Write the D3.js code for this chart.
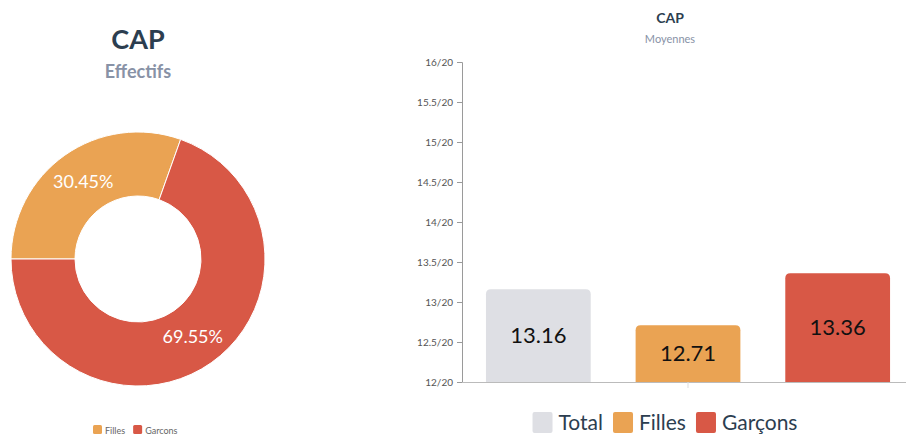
<!DOCTYPE html>
<html>
<head>
<meta charset="utf-8">
<script src="https://cdn.jsdelivr.net/npm/d3@7"></script>
<style>
  html, body { margin: 0; padding: 0; background: #fff; }
  svg { display: block; font-family: Lato, "Open Sans", sans-serif; }
</style>
</head>
<body>
<svg id="chart" width="906" height="434"></svg>
<script>
// Effectifs (donut)
const shareLabels = ["Filles", "Garcons"];
const shareValues = [30.45, 69.55];
const shareColors = ["#EAA353", "#D85846"];

// Moyennes (bars)
const barSeries = ["Total", "Filles", "Garçons"];
const barValues = [13.16, 12.71, 13.36];
const barColors = ["#DEDFE4", "#EAA353", "#D85846"];
const yTicks = [12, 12.5, 13, 13.5, 14, 14.5, 15, 15.5, 16];

const svg = d3.select("#chart");

// ---------- Donut ----------
const cx = 138, cy = 259, rOuter = 127, rInner = 63;
svg.append("text").attr("x", cx).attr("y", 49).attr("text-anchor", "middle")
  .attr("font-size", 27).attr("font-weight", 700).attr("fill", "#2C3E50").text("CAP");
svg.append("text").attr("x", cx).attr("y", 78).attr("text-anchor", "middle")
  .attr("font-size", 18).attr("font-weight", 700).attr("fill", "#8892A6").text("Effectifs");

const pie = d3.pie().sort(null)
  .startAngle(-Math.PI / 2).endAngle(Math.PI * 1.5);
const arcs = pie(shareValues);
const arc = d3.arc().innerRadius(rInner).outerRadius(rOuter);
const labelArc = d3.arc().innerRadius((rInner + rOuter) / 2).outerRadius((rInner + rOuter) / 2);
const donut = svg.append("g").attr("transform", `translate(${cx},${cy})`);
donut.selectAll("path").data(arcs).join("path")
  .attr("d", arc).attr("fill", (d, i) => shareColors[i])
  .attr("stroke", "#fff").attr("stroke-width", 1);
donut.selectAll("text").data(arcs).join("text")
  .attr("transform", d => `translate(${labelArc.centroid(d)})`)
  .attr("text-anchor", "middle").attr("dy", "0.35em")
  .attr("font-size", 18).attr("fill", "#fff")
  .text(d => d.data.toFixed(2) + "%");

// small legend under the donut
const lg = svg.append("g").attr("transform", "translate(93,425)");
let lx = 0;
shareLabels.forEach((name, i) => {
  lg.append("rect").attr("x", lx).attr("y", 0).attr("width", 9).attr("height", 9)
    .attr("rx", 1.5).attr("fill", shareColors[i]);
  const t = lg.append("text").attr("x", lx + 12).attr("y", 8.5)
    .attr("font-size", 9).attr("fill", "#666").text(name);
  lx += 12 + t.node().getComputedTextLength() + 8;
});

// ---------- Bars ----------
// the category area runs a little past the right edge of the view
const plot = { left: 462, right: 914, top: 62, bottom: 382 };
svg.append("text").attr("x", 670).attr("y", 23).attr("text-anchor", "middle")
  .attr("font-size", 14).attr("font-weight", 700).attr("fill", "#2C3E50").text("CAP");
svg.append("text").attr("x", 670).attr("y", 43).attr("text-anchor", "middle")
  .attr("font-size", 11).attr("fill", "#8892A6").text("Moyennes");

const y = d3.scaleLinear().domain([12, 16]).range([plot.bottom, plot.top]);
const x = d3.scaleBand().domain(barSeries).range([plot.left, plot.right])
  .paddingInner(0.3).paddingOuter(0.16);

const yAxis = d3.axisLeft(y).tickValues(yTicks).tickSize(5).tickPadding(4)
  .tickFormat(d => d + "/20");
const ya = svg.append("g").attr("transform", `translate(${plot.left},0)`).call(yAxis);
ya.select(".domain").attr("stroke", "#9a9a9a");
ya.selectAll(".tick line").attr("stroke", "#9a9a9a");
ya.selectAll(".tick text").attr("font-size", 10).attr("fill", "#555")
  .attr("font-family", "Lato, sans-serif");

// x baseline with one centre tick
svg.append("line").attr("x1", plot.left).attr("x2", plot.right)
  .attr("y1", plot.bottom + 0.5).attr("y2", plot.bottom + 0.5).attr("stroke", "#bbb");
svg.append("line").attr("x1", (plot.left + plot.right) / 2).attr("x2", (plot.left + plot.right) / 2)
  .attr("y1", plot.bottom).attr("y2", plot.bottom + 6).attr("stroke", "#ddd");

function topRounded(x0, y0, w, h, r) {
  return `M${x0},${y0 + h}V${y0 + r}Q${x0},${y0} ${x0 + r},${y0}H${x0 + w - r}` +
    `Q${x0 + w},${y0} ${x0 + w},${y0 + r}V${y0 + h}Z`;
}
const bars = svg.append("g");
barSeries.forEach((name, i) => {
  const bx = x(name), bw = x.bandwidth(), by = y(barValues[i]), bh = plot.bottom - by;
  bars.append("path").attr("d", topRounded(bx, by, bw, bh, 5)).attr("fill", barColors[i]);
  bars.append("text").attr("x", bx + bw / 2).attr("y", by + bh / 2)
    .attr("text-anchor", "middle").attr("dy", "0.35em")
    .attr("font-size", 22).attr("fill", "#111").text(barValues[i].toFixed(2));
});

// legend under the bars
const bl = svg.append("g");
const items = [];
let total = 0;
barSeries.forEach((name, i) => {
  const t = bl.append("text").attr("font-size", 21).attr("fill", "#2C3E50").text(name);
  const w = t.node().getComputedTextLength();
  items.push({ t, w, i });
  total += 20 + 6 + w + (i < barSeries.length - 1 ? 10 : 0);
});
let bx0 = 665 - total / 2;
items.forEach(({ t, w, i }) => {
  bl.append("rect").attr("x", bx0).attr("y", 412).attr("width", 20).attr("height", 21)
    .attr("rx", 2).attr("fill", barColors[i]);
  t.attr("x", bx0 + 26).attr("y", 430);
  bx0 += 20 + 6 + w + 10;
});
</script>
</body>
</html>
